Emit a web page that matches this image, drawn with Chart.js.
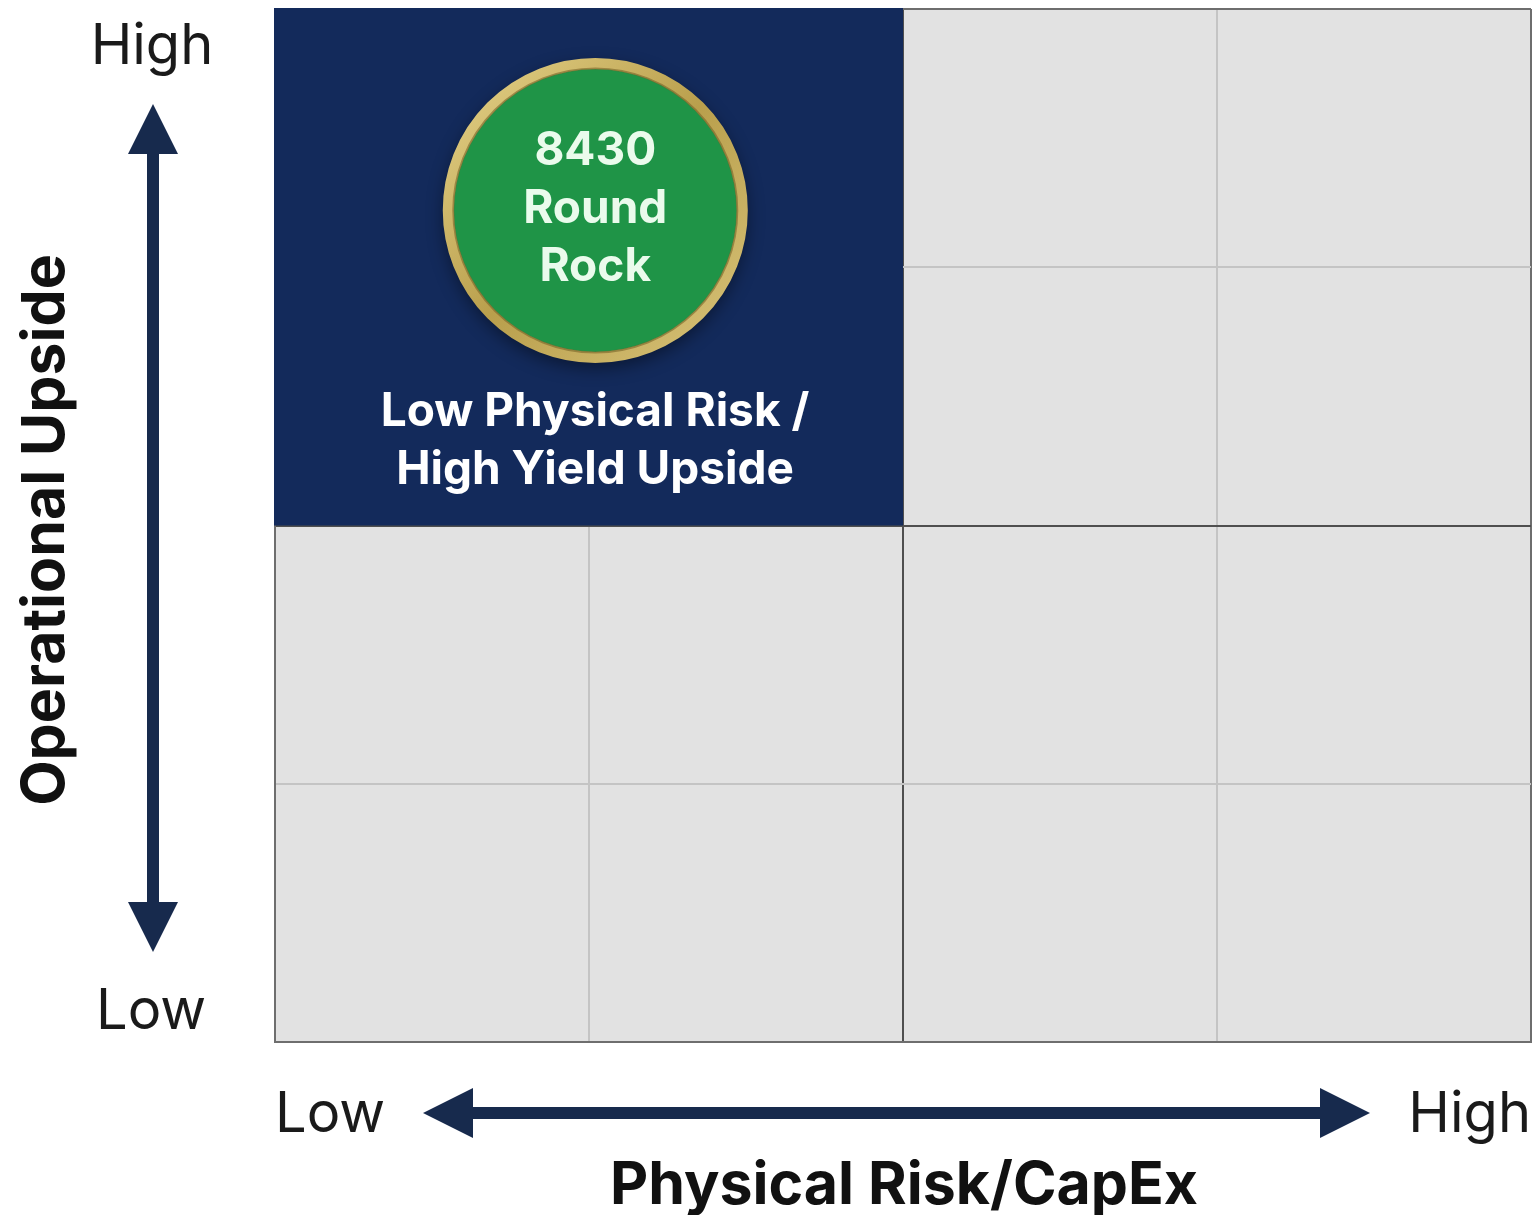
<!DOCTYPE html>
<html>
<head>
<meta charset="utf-8">
<script src="https://cdn.jsdelivr.net/npm/chart.js@4.4.1/dist/chart.umd.min.js"></script>
<style>
  html, body { margin: 0; padding: 0; background: #ffffff; overflow: hidden; }
  #wrap { width: 1538px; height: 1215px; }
</style>
</head>
<body>
<div id="wrap"><canvas id="c" width="1538" height="1215"></canvas></div>
<script>
// ---- data ----
const xAxisTitle = 'Physical Risk/CapEx';
const yAxisTitle = 'Operational Upside';
const axisEndLabels = ['Low', 'High'];
const gridMin = 0;
const gridMax = 4;
const quadrantSplit = 2;
const siteLabelLines = [['8430', 'Round', 'Rock']];
const siteX = [1.02];
const siteY = [3.22];
const highlightX = [0, 2];
const highlightY = [2, 4];
const highlightNote = ['Low Physical Risk /', 'High Yield Upside'];

// ---- styles ----
const NAVY = '#132a5b';
const ARROW = '#172a4d';
const CELL = '#e2e2e2';
const GREEN = '#1f9447';
const GOLD = '#c9b565';
const FONT = 'Inter, Roboto, "Liberation Sans", sans-serif';

function drawArrow(ctx, x1, y1, x2, y2) {
  const head = 50, half = 25, shaft = 12;
  const ang = Math.atan2(y2 - y1, x2 - x1);
  const len = Math.hypot(x2 - x1, y2 - y1);
  ctx.save();
  ctx.translate(x1, y1);
  ctx.rotate(ang);
  ctx.fillStyle = ARROW;
  ctx.fillRect(head - 2, -shaft / 2, len - 2 * head + 4, shaft);
  ctx.beginPath();
  ctx.moveTo(0, 0); ctx.lineTo(head, -half); ctx.lineTo(head, half); ctx.closePath();
  ctx.fill();
  ctx.beginPath();
  ctx.moveTo(len, 0); ctx.lineTo(len - head, -half); ctx.lineTo(len - head, half); ctx.closePath();
  ctx.fill();
  ctx.restore();
}

const matrixPlugin = {
  id: 'matrix',
  beforeDraw(chart) {
    const { ctx, chartArea: a } = chart;
    ctx.save();
    ctx.fillStyle = '#ffffff';
    ctx.fillRect(0, 0, chart.width, chart.height);
    ctx.fillStyle = CELL;
    ctx.fillRect(a.left, a.top, a.right - a.left, a.bottom - a.top);
    ctx.restore();
  },
  beforeDatasetsDraw(chart) {
    const { ctx } = chart;
    const xs = chart.scales.x, ys = chart.scales.y;
    const x0 = xs.getPixelForValue(highlightX[0]) - 1;
    const x1 = xs.getPixelForValue(highlightX[1]);
    const y0 = ys.getPixelForValue(highlightY[1]) - 1;
    const y1 = ys.getPixelForValue(highlightY[0]);
    ctx.save();
    ctx.fillStyle = NAVY;
    ctx.fillRect(x0, y0, x1 - x0, y1 - y0);
    ctx.restore();
    ctx.save();
    ctx.shadowColor = 'rgba(0,0,0,0.45)';
    ctx.shadowBlur = 18;
    ctx.shadowOffsetY = 6;
    const m = chart.getDatasetMeta(0).data[0];
    ctx.beginPath();
    ctx.arc(m.x, m.y, 151, 0, Math.PI * 2);
    ctx.fillStyle = NAVY;
    ctx.fill();
    ctx.restore();
  },
  afterDatasetsDraw(chart) {
    const { ctx, chartArea: a } = chart;
    const xs = chart.scales.x;
    ctx.save();
    const meta = chart.getDatasetMeta(0);
    meta.data.forEach((pt, i) => {
      ctx.beginPath();
      ctx.arc(pt.x, pt.y, 142, 0, Math.PI * 2);
      ctx.strokeStyle = 'rgba(120,100,40,0.6)';
      ctx.lineWidth = 2;
      ctx.stroke();
      ctx.fillStyle = '#eafbec';
      ctx.font = 'bold 46px ' + FONT;
      ctx.textAlign = 'center';
      ctx.textBaseline = 'middle';
      const lines = siteLabelLines[i];
      lines.forEach((t, k) => {
        ctx.fillText(t, pt.x, pt.y + (k - (lines.length - 1) / 2) * 58 - 1);
      });
    });
    const qx = (xs.getPixelForValue(highlightX[0]) + xs.getPixelForValue(highlightX[1])) / 2 + 6;
    const qy = meta.data[0].y + 202;
    ctx.fillStyle = '#ffffff';
    ctx.font = 'bold 46px ' + FONT;
    highlightNote.forEach((t, k) => ctx.fillText(t, qx, qy + k * 58));

    ctx.fillStyle = '#1a1a1a';
    ctx.font = '56px ' + FONT;
    ctx.textBaseline = 'middle';
    ctx.textAlign = 'center';
    ctx.fillText(axisEndLabels[1], 152, 47);
    ctx.fillText(axisEndLabels[0], 151, 1012);
    ctx.textAlign = 'left';
    ctx.fillText(axisEndLabels[0], a.left, 1115);
    ctx.textAlign = 'right';
    ctx.fillText(axisEndLabels[1], a.right, 1115);

    drawArrow(ctx, 153, 104, 153, 952);
    drawArrow(ctx, 423, 1113, 1370, 1113);

    ctx.fillStyle = '#111111';
    ctx.font = 'bold 59px ' + FONT;
    ctx.textAlign = 'center';
    ctx.textBaseline = 'middle';
    ctx.fillText(xAxisTitle, 904, 1186);
    ctx.save();
    ctx.translate(46, 530);
    ctx.rotate(-Math.PI / 2);
    ctx.fillText(yAxisTitle, 0, 0);
    ctx.restore();
    ctx.restore();
  }
};

function gridColor(c) {
  const v = c.tick && c.tick.value;
  if (v === quadrantSplit) return '#4f4f4f';
  if (v === gridMin || v === gridMax) return '#6e6e6e';
  return '#c4c4c4';
}

const goldGradient = (c) => {
  const chart = c.chart;
  const el = chart.getDatasetMeta(0).data[0];
  if (!el || el.x === undefined) return GOLD;
  const g = chart.ctx.createLinearGradient(el.x - 150, el.y - 150, el.x + 150, el.y + 150);
  g.addColorStop(0, '#e6d38a');
  g.addColorStop(0.5, '#b99f4c');
  g.addColorStop(1, '#d9c47a');
  return g;
};

new Chart(document.getElementById('c'), {
  type: 'scatter',
  data: {
    datasets: [{
      label: 'Site',
      data: siteX.map((x, i) => ({ x, y: siteY[i] })),
      backgroundColor: GREEN,
      borderColor: goldGradient,
      borderWidth: 11,
      pointRadius: 147,
      pointHoverRadius: 147,
      pointHoverBorderWidth: 11,
      clip: false
    }]
  },
  options: {
    responsive: false,
    animation: false,
    events: [],
    layout: { autoPadding: false, padding: { left: 275, top: 9, right: 7, bottom: 173 } },
    plugins: { legend: { display: false }, tooltip: { enabled: false } },
    scales: {
      x: {
        type: 'linear', min: gridMin, max: gridMax,
        ticks: { display: false, stepSize: 1 },
        grid: { color: gridColor, lineWidth: 2, drawTicks: false },
        border: { display: true, color: '#6e6e6e', width: 2 },
        title: { display: false }
      },
      y: {
        type: 'linear', min: gridMin, max: gridMax,
        ticks: { display: false, stepSize: 1 },
        grid: { color: gridColor, lineWidth: 2, drawTicks: false },
        border: { display: true, color: '#6e6e6e', width: 2 },
        title: { display: false }
      }
    }
  },
  plugins: [matrixPlugin]
});
</script>
</body>
</html>
